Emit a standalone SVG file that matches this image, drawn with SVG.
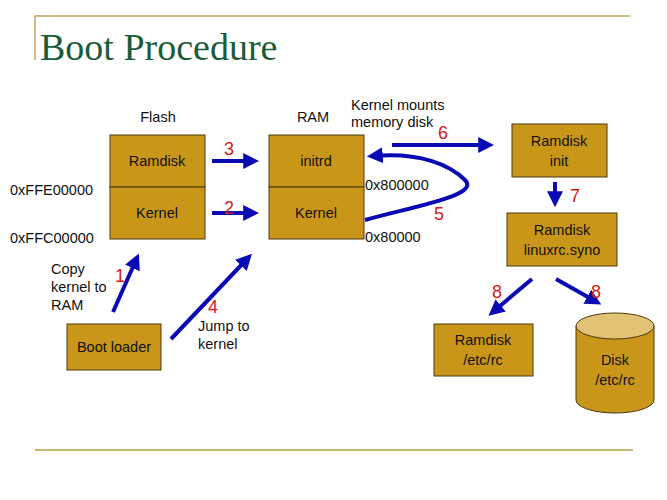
<svg xmlns="http://www.w3.org/2000/svg" width="667" height="500" viewBox="0 0 667 500">
<defs>
<marker id="ah" markerWidth="4" markerHeight="4" refX="2.2" refY="2" orient="auto" markerUnits="strokeWidth">
<path d="M0,0 L4,2 L0,4 Z" fill="#0a0ab4"/>
</marker>
<style>
.box{fill:#c9961a;stroke:#4a3a10;stroke-width:1}
.t{font-family:"Liberation Sans",Arial,sans-serif;font-size:14.5px;fill:#111}
.c{text-anchor:middle}
.n{font-family:"Liberation Sans",Arial,sans-serif;font-size:18px;fill:#d42020}
.a{fill:none;stroke:#0a0ab4;stroke-width:4;marker-end:url(#ah)}
</style>
</defs>
<rect width="667" height="500" fill="#fff"/>
<g id="frame">
<path d="M35,60 V16 H630" fill="none" stroke="#c0a860" stroke-width="1.5"/>
<line x1="35" y1="450" x2="633" y2="450" stroke="#c8b878" stroke-width="2"/>
<text x="40" y="60" font-family="'Liberation Serif',serif" font-size="38" fill="#1a5c3a">Boot Procedure</text>
</g>
<g id="labels">
<text class="t c" x="158" y="122">Flash</text>
<text class="t c" x="313" y="122">RAM</text>
<text class="t" x="10" y="195">0xFFE00000</text>
<text class="t" x="10" y="243">0xFFC00000</text>
<text class="t" x="365" y="190">0x800000</text>
<text class="t" x="365" y="242">0x80000</text>
<text class="t" x="351" y="110">Kernel mounts</text>
<text class="t" x="351" y="127">memory disk</text>
<text class="t" x="51" y="274">Copy</text>
<text class="t" x="51" y="292">kernel to</text>
<text class="t" x="51" y="310">RAM</text>
<text class="t" x="198" y="331">Jump to</text>
<text class="t" x="198" y="349">kernel</text>
</g>
<g id="flash-ramdisk"><rect class="box" x="110" y="135" width="95" height="52"/><text class="t c" x="157" y="166">Ramdisk</text></g>
<g id="flash-kernel"><rect class="box" x="110" y="187" width="95" height="52"/><text class="t c" x="157" y="218">Kernel</text></g>
<g id="ram-initrd"><rect class="box" x="269" y="135" width="95" height="52"/><text class="t c" x="316" y="166">initrd</text></g>
<g id="ram-kernel"><rect class="box" x="269" y="187" width="95" height="52"/><text class="t c" x="316" y="218">Kernel</text></g>
<g id="bootloader"><rect class="box" x="67" y="324" width="94" height="46"/><text class="t c" x="114" y="352">Boot loader</text></g>
<g id="ramdisk-init"><rect class="box" x="512" y="124" width="95" height="53"/><text class="t c" x="559" y="146">Ramdisk</text><text class="t c" x="559" y="166">init</text></g>
<g id="ramdisk-linuxrc"><rect class="box" x="507" y="213" width="110" height="53"/><text class="t c" x="562" y="235">Ramdisk</text><text class="t c" x="562" y="255">linuxrc.syno</text></g>
<g id="ramdisk-etcrc"><rect class="box" x="434" y="324" width="99" height="52"/><text class="t c" x="483" y="345">Ramdisk</text><text class="t c" x="483" y="365">/etc/rc</text></g>
<g id="disk-etcrc">
<path class="box" d="M576,326 V400 A39,13 0 0 0 654,400 V326"/>
<ellipse cx="615" cy="326" rx="39" ry="13" fill="#e2c274" stroke="#4a3a10" stroke-width="1"/>
<text class="t c" x="615" y="365">Disk</text><text class="t c" x="615" y="385">/etc/rc</text>
</g>
<g id="connectors">
<path class="a" d="M212,161 H252"/>
<path class="a" d="M212,213 H252"/>
<path class="a" d="M113,312 L136,260"/>
<path class="a" d="M171,339 L247,259"/>
<path class="a" d="M365,220 C420,205 480,195 465,180 C450,165 420,152 374,156"/>
<path class="a" d="M392,145 H487"/>
<path class="a" d="M555,182 V200"/>
<path class="a" d="M532,279 L494,311"/>
<path class="a" d="M556,279 L595,301"/>
</g>
<g id="numbers">
<text class="n" x="224" y="155">3</text>
<text class="n" x="224" y="214">2</text>
<text class="n" x="115" y="282">1</text>
<text class="n" x="208" y="313">4</text>
<text class="n" x="434" y="220">5</text>
<text class="n" x="438" y="139">6</text>
<text class="n" x="570" y="202">7</text>
<text class="n" x="492" y="298">8</text>
<text class="n" x="591" y="298">8</text>
</g>
</svg>
